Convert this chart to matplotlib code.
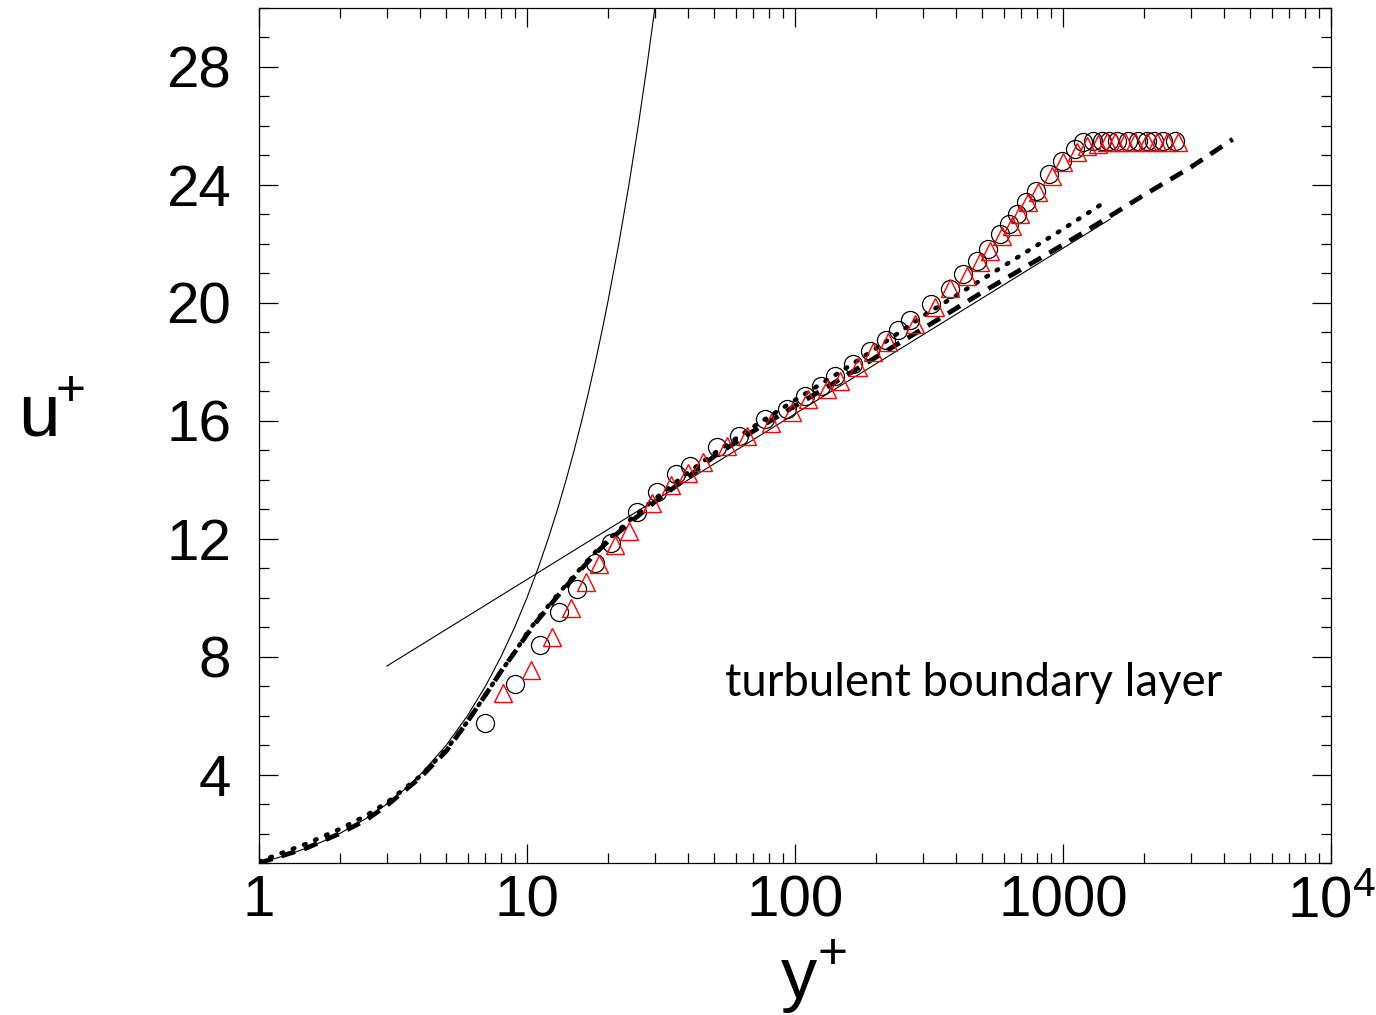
import matplotlib
matplotlib.use("Agg")
import matplotlib.pyplot as plt
from matplotlib.ticker import MultipleLocator, LogLocator, FixedLocator, NullFormatter

# viscous sublayer u+ = y+
yp_visc = [1, 1.25, 1.5, 1.75, 2, 2.5, 3, 3.5, 4, 5, 6, 7, 8, 9, 10, 11, 12, 13, 14, 15,
           16, 17, 18, 19, 20, 22, 24, 26, 28, 30]
up_visc = [1, 1.25, 1.5, 1.75, 2, 2.5, 3, 3.5, 4, 5, 6, 7, 8, 9, 10, 11, 12, 13, 14, 15,
           16, 17, 18, 19, 20, 22, 24, 26, 28, 30]

# log law (straight on semilog axes)
yp_log = [3, 1500]
up_log = [7.68, 22.84]

# model / DNS curves
yp_dash = [1.0, 1.5, 2.0, 2.5, 3.0, 4.0, 5.0, 6.0, 7.0, 8.0, 9.0, 10, 11, 13, 15, 18, 20,
           25, 30, 40, 50, 70, 100, 150, 200, 300, 500, 800, 1200, 2000, 3000, 4300]
up_dash = [1.0, 1.5, 2.0, 2.45, 2.95, 3.9, 4.8, 5.8, 6.7, 7.5, 8.15, 8.75, 9.25, 10.05, 10.7,
           11.5, 11.9, 12.65, 13.25, 14.1, 14.8, 15.65, 16.5, 17.45, 18.15, 19.12, 20.36,
           21.45, 22.4, 23.65, 24.6, 25.55]

yp_dot = [1.0, 1.5, 2.0, 2.5, 3.0, 4.0, 5.0, 6.0, 7.0, 8.0, 9.0, 10, 11, 13, 15, 18, 20,
          25, 30, 40, 50, 70, 100, 150, 200, 300, 457, 618, 1000, 1435]
up_dot = [1.05, 1.65, 2.15, 2.6, 3.05, 3.95, 4.85, 5.8, 6.7, 7.5, 8.15, 8.8, 9.3, 10.1, 10.75,
          11.55, 11.95, 12.75, 13.35, 14.25, 14.9, 15.8, 16.7, 17.7, 18.45, 19.55, 20.58,
          21.32, 22.5, 23.42]

# measurements (circles, black)
yp_circ = [6.97, 9.02, 11.2, 13.2, 15.4, 17.9, 20.6, 25.7, 30.6, 36.0, 40.6, 51.2, 61.8, 77.3,
           93.3, 109, 125, 141, 165, 190, 219, 242, 269, 323, 379, 424, 478, 525, 582, 629,
           673, 728, 793, 887, 991, 1109, 1187, 1294, 1398, 1485, 1590, 1748, 1905, 2058,
           2186, 2362, 2618]
up_circ = [5.76, 7.08, 8.41, 9.53, 10.31, 11.19, 11.86, 12.92, 13.59, 14.20, 14.47, 15.12,
           15.49, 16.07, 16.41, 16.85, 17.19, 17.53, 17.93, 18.37, 18.75, 19.08, 19.42, 19.97,
           20.47, 20.98, 21.42, 21.83, 22.34, 22.68, 23.02, 23.42, 23.80, 24.36, 24.81, 25.22,
           25.46, 25.49, 25.49, 25.49, 25.49, 25.49, 25.49, 25.49, 25.49, 25.49, 25.49]

# measurements (triangles, red)
yp_tri = [8.14, 10.35, 12.4, 14.6, 16.6, 18.6, 21.3, 24.0, 29.3, 34.5, 39.9, 45.4, 55.7, 66.2,
          81.3, 97.5, 112, 132, 147, 172, 195, 222, 280, 333, 379, 438, 490, 534, 592, 645,
          691, 740, 807, 910, 1000, 1128, 1230, 1352, 1459, 1563, 1703, 1857, 2056, 2243,
          2444, 2685]
up_tri = [6.78, 7.53, 8.68, 9.66, 10.54, 11.15, 11.80, 12.27, 13.22, 13.83, 14.24, 14.61,
          15.15, 15.49, 15.93, 16.31, 16.75, 17.08, 17.36, 17.83, 18.34, 18.68, 19.29, 19.86,
          20.51, 20.92, 21.39, 21.76, 22.27, 22.61, 23.02, 23.42, 23.76, 24.31, 24.78, 25.12,
          25.32, 25.39, 25.45, 25.45, 25.45, 25.45, 25.45, 25.45, 25.45, 25.45]

x_ticks = [1, 10, 100, 1000, 10000]
x_labels = ["1", "10", "100", "1000", r"$\mathregular{10^4}$"]
y_ticks = [4, 8, 12, 16, 20, 24, 28]

sans = ["Liberation Sans", "DejaVu Sans"]

W, H = 1376, 1015
fig = plt.figure(figsize=(W / 100, H / 100), dpi=100)
ax = fig.add_axes([259 / W, 1 - 863 / H, (1331 - 259) / W, (863 - 8) / H])

ax.plot(yp_visc, up_visc, color="black", lw=0.8)
ax.plot(yp_log, up_log, color="black", lw=0.8)
ax.plot(yp_dash, up_dash, color="black", lw=3.4, linestyle=(0, (3, 2)))
ax.plot(yp_dot, up_dot, color="black", lw=3.2, linestyle=(0, (0.4, 2.3)),
        dash_capstyle="round")
ax.plot(yp_circ, up_circ, linestyle="none", marker="o", ms=13, mfc="none",
        mec="black", mew=0.9)
ax.plot(yp_tri, up_tri, linestyle="none", marker="^", ms=13, mfc="none",
        mec="#ff0000", mew=1.0)

ax.set_xscale("log")
ax.set_xlim(1, 1e4)
ax.set_ylim(1, 30)

ax.xaxis.set_major_locator(FixedLocator(x_ticks))
ax.set_xticklabels(x_labels, fontsize=42, family=sans)
ax.xaxis.set_minor_locator(LogLocator(base=10, subs=range(2, 10)))
ax.xaxis.set_minor_formatter(NullFormatter())

ax.yaxis.set_major_locator(FixedLocator(y_ticks))
ax.set_yticklabels([str(v) for v in y_ticks], fontsize=42, family=sans)
ax.yaxis.set_minor_locator(MultipleLocator(1))

ax.tick_params(which="both", direction="in", top=True, right=True, width=0.9)
ax.tick_params(which="major", length=14)
ax.tick_params(which="minor", length=7)
ax.tick_params(axis="y", which="major", pad=20)
ax.tick_params(axis="x", which="major", pad=8)
for s in ax.spines.values():
    s.set_linewidth(0.9)

# axis titles: letter plus raised "+"
fig.text(18 / W, 1 - 436 / H, "u", fontsize=54, family=sans, ha="left", va="baseline")
fig.text(71 / W, 1 - 406 / H, "+", fontsize=37, family=sans, ha="center", va="baseline")
fig.text(781 / W, 1 - 998 / H, "y", fontsize=52, family=sans, ha="left", va="baseline")
fig.text(833 / W, 1 - 969 / H, "+", fontsize=37, family=sans, ha="center", va="baseline")

ax.text(54.8, 6.68, "turbulent boundary layer", fontsize=32.8, family=["Lato", "DejaVu Sans"],
        va="baseline", ha="left")

fig.savefig("out.png", dpi=100)
